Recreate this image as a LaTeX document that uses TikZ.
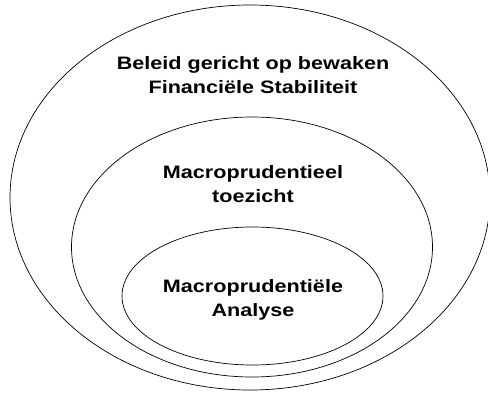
\documentclass[tikz,border=0pt]{standalone}
\usepackage{fontspec}
\setmainfont{Liberation Sans}[FakeStretch=1.2]
\usetikzlibrary{shapes.geometric}

\begin{document}
\begin{tikzpicture}[x=1pt, y=-1pt,
    ring/.style={ellipse, draw, line width=0.7pt, inner sep=0pt},
    caption/.style={align=center, inner sep=0pt, font=\bfseries\fontsize{18}{24}\selectfont}]

        \useasboundingbox (0,0) rectangle (488,392);

        % Ellipsen, van buiten naar binnen
        \node[ring, minimum width=480pt, minimum height=385pt] (beleid) at (250,197.5) {};
        \node[ring, minimum width=361pt, minimum height=260pt] (toezicht) at (252,247) {};
        \node[ring, minimum width=261pt, minimum height=138pt] (analyse) at (252.5,296) {};

        % Teksten
        \node[caption] (beleidtekst) at (253,75.2) {Beleid gericht op bewaken\\Financiële Stabiliteit};
        \node[caption] (toezichttekst) at (253,184.2) {Macroprudentieel\\toezicht};
        \node[caption] (analysetekst) at (253,300.3) {Macroprudentiële\\Analyse};

    \end{tikzpicture}
\end{document}
